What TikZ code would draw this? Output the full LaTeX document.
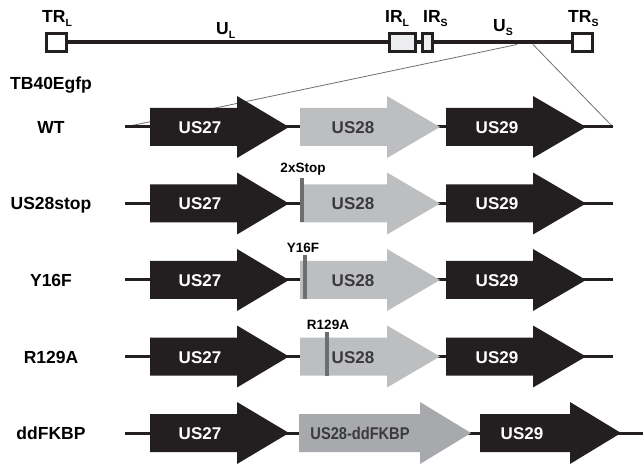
\documentclass[tikz,border=0pt]{standalone}
\usepackage{fontspec}
\setmainfont{Liberation Sans}
\usepackage{tikz}
\usetikzlibrary{positioning}

\definecolor{geneblack}{HTML}{231F20}
\definecolor{usgray}{HTML}{BCBEC0}
\definecolor{ddgray}{HTML}{A7A9AC}
\definecolor{markgray}{HTML}{6D6E71}
\definecolor{irfill}{HTML}{ECEDEE}
\definecolor{usdark}{HTML}{3A3A3C}

% arrow body: start, head start, tip, row y, fill
\newcommand{\genearrow}[5]{%
  \fill[#5] (#1,#4-19) -- (#2,#4-19) -- (#2,#4-31) -- (#3,#4)
    -- (#2,#4+31) -- (#2,#4+19) -- (#1,#4+19) -- cycle;}
\newcommand{\subtxt}[1]{{\fontsize{10.5}{10.5}\selectfont\raisebox{-4pt}{#1}}}

\begin{document}
\begin{tikzpicture}[x=1pt,y=-1pt,
    topbox/.style={draw=geneblack,line width=3pt,inner sep=0pt},
    toplbl/.style={font=\bfseries\fontsize{17.5}{20}\selectfont,inner sep=0pt,anchor=base west},
    rowlbl/.style={font=\bfseries\fontsize{17.5}{20}\selectfont,inner sep=0pt,anchor=base},
    genelbl/.style={font=\bfseries\fontsize{17}{20}\selectfont,inner sep=0pt,anchor=base},
    mutlbl/.style={font=\bfseries\fontsize{13.5}{15}\selectfont,inner sep=0pt,anchor=base},
    rowline/.style={geneblack,line width=3pt},
    mutbar/.style={markgray,line width=3.5pt},
    zoomline/.style={markgray,line width=0.8pt}]
    \useasboundingbox (0,0) rectangle (643,465);

    % genome overview
    \node[topbox,fill=white,minimum width=20pt,minimum height=18pt] (boxTRL) at (56.5,42.5) {};
    \node[topbox,fill=irfill,minimum width=26pt,minimum height=18pt] (boxIRL) at (402.5,42.5) {};
    \node[topbox,fill=irfill,minimum width=10pt,minimum height=18pt] (boxIRS) at (427.5,42.5) {};
    \node[topbox,fill=white,minimum width=20pt,minimum height=18pt] (boxTRS) at (582.5,42.5) {};
    \draw[geneblack,line width=4pt] (boxTRL) -- (boxIRL);
    \draw[geneblack,line width=4pt] (boxIRL) -- (boxIRS);
    \draw[geneblack,line width=4pt] (boxIRS) -- (boxTRS);

    \node[toplbl] (trL) at (42,23) {TR\subtxt{L}};
    \node[toplbl] (uL) at (216,35) {U\subtxt{L}};
    \node[toplbl] (irL) at (385,23) {IR\subtxt{L}};
    \node[toplbl] (irS) at (423,23) {IR\subtxt{S}};
    \node[toplbl] (uS) at (493,32) {U\subtxt{S}};
    \node[toplbl] (trS) at (568,23) {TR\subtxt{S}};

    \node[toplbl] (strain) at (10,90) {TB40Egfp};

    % zoom onto U_S
    \coordinate (usA) at (517,44.5);
    \coordinate (usB) at (533,44.5);
    \coordinate (wtL) at (125,127);
    \coordinate (wtR) at (613,127);
    \draw[zoomline] (usA) -- (wtL);
    \draw[zoomline] (usB) -- (wtR);

    % WT
    \node[rowlbl] (lblWT) at (51,133.5) {WT};
    \draw[rowline] (wtL) -- (wtR);
    \genearrow{150}{237}{289}{127}{geneblack}
    \genearrow{300}{387}{440}{127}{usgray}
    \genearrow{446}{533}{586}{127}{geneblack}
    \node[genelbl,text=white] (wt27) at (200,133.5) {US27};
    \node[genelbl,text=usdark] (wt28) at (353,133.5) {US28};
    \node[genelbl,text=white] (wt29) at (497,133.5) {US29};

    % US28stop
    \coordinate (stopL) at (125,203.5);
    \coordinate (stopR) at (613,203.5);
    \node[rowlbl] (lblStop) at (51,210) {US28stop};
    \draw[rowline] (stopL) -- (stopR);
    \genearrow{150}{237}{289}{203.5}{geneblack}
    \genearrow{300}{387}{440}{203.5}{usgray}
    \genearrow{446}{533}{586}{203.5}{geneblack}
    \draw[mutbar] (302,178.5) -- (302,222.5);
    \node[mutlbl] (mutStop) at (303,173) {2xStop};
    \node[genelbl,text=white] (stop27) at (200,210) {US27};
    \node[genelbl,text=usdark] (stop28) at (353,210) {US28};
    \node[genelbl,text=white] (stop29) at (497,210) {US29};

    % Y16F
    \coordinate (yfL) at (125,280);
    \coordinate (yfR) at (613,280);
    \node[rowlbl] (lblYF) at (51,286.5) {Y16F};
    \draw[rowline] (yfL) -- (yfR);
    \genearrow{150}{237}{289}{280}{geneblack}
    \genearrow{300}{387}{440}{280}{usgray}
    \genearrow{446}{533}{586}{280}{geneblack}
    \draw[mutbar] (305,255) -- (305,299);
    \node[mutlbl] (mutYF) at (303,253) {Y16F};
    \node[genelbl,text=white] (yf27) at (200,286.5) {US27};
    \node[genelbl,text=usdark] (yf28) at (353,286.5) {US28};
    \node[genelbl,text=white] (yf29) at (497,286.5) {US29};

    % R129A
    \coordinate (raL) at (125,356.5);
    \coordinate (raR) at (613,356.5);
    \node[rowlbl] (lblRA) at (51,363) {R129A};
    \draw[rowline] (raL) -- (raR);
    \genearrow{150}{237}{289}{356.5}{geneblack}
    \genearrow{300}{387}{440}{356.5}{usgray}
    \genearrow{446}{533}{586}{356.5}{geneblack}
    \draw[mutbar] (327,331.5) -- (327,375.5);
    \node[mutlbl] (mutRA) at (328,330) {R129A};
    \node[genelbl,text=white] (ra27) at (200,363) {US27};
    \node[genelbl,text=usdark] (ra28) at (353,363) {US28};
    \node[genelbl,text=white] (ra29) at (497,363) {US29};

    % ddFKBP
    \coordinate (ddL) at (125,433);
    \coordinate (ddR) at (643,433);
    \node[rowlbl] (lblDD) at (51,439.5) {ddFKBP};
    \draw[rowline] (ddL) -- (ddR);
    \genearrow{150}{237}{289}{433}{geneblack}
    \genearrow{299}{420}{471}{433}{ddgray}
    \genearrow{480}{570}{621}{433}{geneblack}
    \node[genelbl,text=white] (dd27) at (200,439.5) {US27};
    \node[genelbl,text=usdark] (dd28) at (360,439.5) {\scalebox{0.86}[1]{US28-ddFKBP}};
    \node[genelbl,text=white] (dd29) at (522,439.5) {US29};
  \end{tikzpicture}
\end{document}
